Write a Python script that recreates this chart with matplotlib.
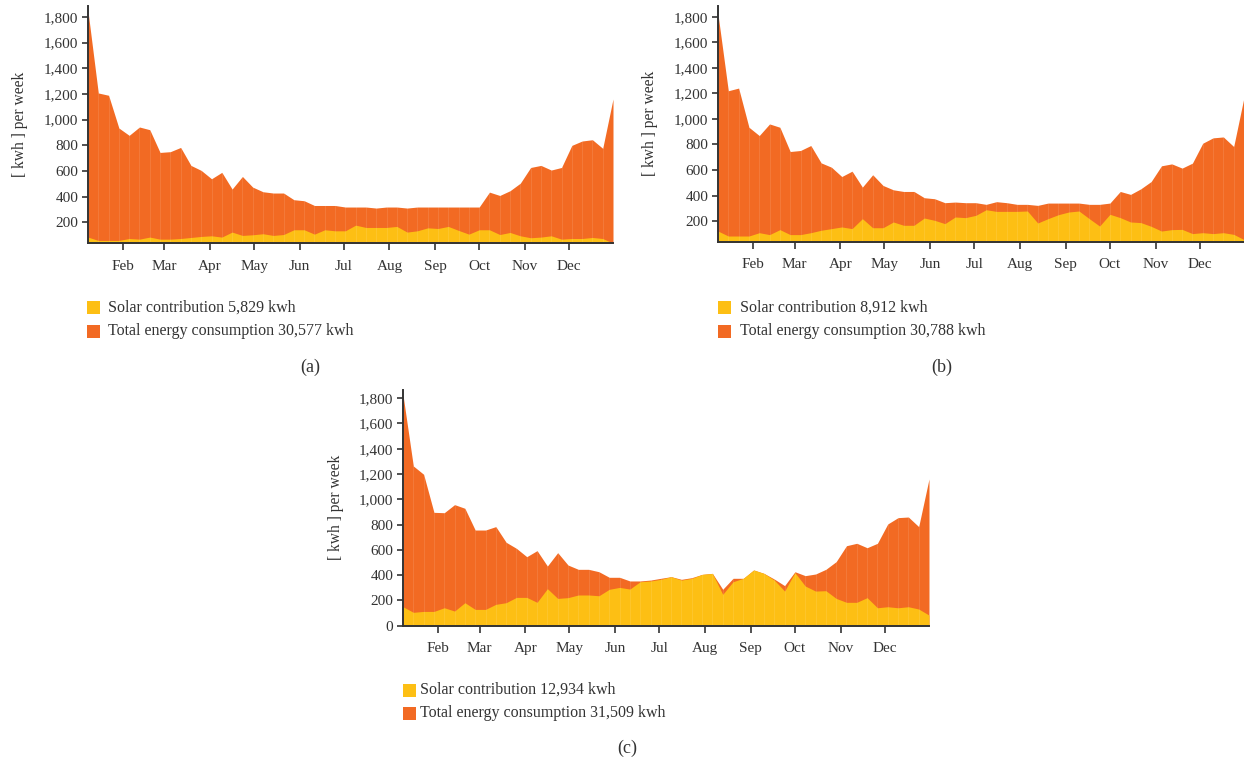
import matplotlib
matplotlib.use("Agg")
import matplotlib.pyplot as plt
from matplotlib.ticker import FuncFormatter
from matplotlib.patches import Rectangle

plt.rcParams['font.family'] = ['Liberation Serif', 'DejaVu Serif']

# Week-ending day of year for the 52 weekly samples
week_days = [7 * k for k in range(1, 53)]
month_ticks = [31, 59, 90, 120, 151, 181, 212, 243, 273, 304, 334]
month_labels = ['Feb', 'Mar', 'Apr', 'May', 'Jun', 'Jul', 'Aug', 'Sep', 'Oct', 'Nov', 'Dec']

# (a) weekly kWh
total_a = [1844, 1208, 1190, 935, 878, 943, 922, 745, 751, 784,
           644, 605, 540, 590, 460, 558, 475, 439, 429, 429,
           377, 369, 332, 332, 332, 320, 320, 320, 312, 320,
           320, 312, 320, 320, 320, 320, 320, 320, 320, 436,
           410, 447, 506, 628, 644, 608, 628, 800, 834, 844,
           777, 1161]
solar_a = [86, 60, 60, 60, 75, 70, 86, 70, 70, 75,
           83, 91, 96, 86, 125, 99, 104, 112, 99, 106,
           143, 143, 109, 143, 135, 135, 179, 161, 161, 161,
           169, 125, 135, 158, 153, 169, 138, 109, 143, 143,
           106, 122, 96, 81, 86, 96, 70, 75, 75, 83,
           75, 39]

# (b) weekly kWh
total_b = [1820, 1221, 1242, 935, 870, 961, 935, 745, 753, 792,
           656, 622, 549, 591, 466, 563, 479, 445, 432, 432,
           383, 375, 344, 349, 344, 344, 331, 352, 344, 331,
           331, 323, 341, 341, 341, 341, 331, 331, 341, 432,
           409, 453, 510, 633, 648, 615, 654, 810, 852, 859,
           784, 1169]
solar_b = [122, 83, 83, 83, 109, 94, 133, 94, 94, 109,
           128, 141, 154, 141, 219, 148, 148, 193, 167, 167,
           224, 206, 180, 232, 227, 245, 289, 276, 276, 276,
           279, 185, 219, 250, 271, 279, 219, 161, 253, 227,
           193, 188, 159, 122, 133, 135, 102, 109, 102, 109,
           96, 55]

# (c) weekly kWh
total_c = [1826, 1264, 1198, 897, 894, 958, 929, 757, 757, 784,
           660, 612, 546, 594, 472, 578, 480, 446, 446, 427,
           383, 383, 354, 354, 361, 375, 388, 367, 380, 406,
           414, 288, 375, 375, 441, 414, 369, 317, 427, 396,
           409, 446, 507, 633, 652, 617, 652, 805, 855, 860,
           784, 1161]
solar_c = [150, 106, 113, 113, 142, 116, 182, 129, 129, 169,
           182, 224, 224, 185, 293, 216, 222, 243, 243, 237,
           288, 303, 290, 348, 354, 367, 388, 361, 375, 406,
           414, 248, 348, 375, 441, 414, 361, 274, 420, 314,
           274, 277, 216, 185, 185, 222, 142, 150, 142, 150,
           132, 84]

legend_a = ['Solar contribution 5,829 kwh', 'Total energy consumption 30,577 kwh']
legend_b = ['Solar contribution 8,912 kwh', 'Total energy consumption 30,788 kwh']
legend_c = ['Solar contribution 12,934 kwh', 'Total energy consumption 31,509 kwh']

ORANGE = '#F26A23'
YELLOW = '#FDBF14'
INK = '#333333'
W, H = 1244, 763

fig = plt.figure(figsize=(W / 100, H / 100), dpi=100)


def px_axes(left, top, right, bottom):
    return fig.add_axes([left / W, 1 - bottom / H, (right - left) / W, (bottom - top) / H])


def draw_panel(ax, total, solar, ymin, ymax, yticks, label_x):
    ax.fill_between(week_days, 0, total, color=ORANGE, lw=0)
    ax.fill_between(week_days, 0, solar, color=YELLOW, lw=0)
    # faint seams at each weekly sample
    for d, t in zip(week_days[1:-1], total[1:-1]):
        ax.plot([d, d], [0, t], color='white', alpha=0.10, lw=0.8)
    ax.set_xlim(week_days[0], week_days[-1])
    ax.set_ylim(ymin, ymax)
    ax.set_xticks(month_ticks)
    ax.set_xticklabels(month_labels)
    ax.set_yticks(yticks)
    ax.yaxis.set_major_formatter(FuncFormatter(lambda v, p: f'{int(v):,}'))
    for side in ('top', 'right'):
        ax.spines[side].set_visible(False)
    for side in ('left', 'bottom'):
        ax.spines[side].set_color(INK)
        ax.spines[side].set_linewidth(1.4)
    ax.tick_params(axis='y', length=4, width=1.2, color=INK, labelcolor=INK,
                   labelsize=11, pad=3)
    ax.tick_params(axis='x', length=5, width=1.2, color=INK, labelcolor=INK,
                   labelsize=11, pad=7)
    ax.set_ylabel('[ kwh ] per week', fontsize=11.2, color=INK)
    ax.yaxis.set_label_coords(label_x, 0.5)


def draw_legend(x_sq, x_txt, y1, y2, labels):
    for y, col, lab in ((y1, YELLOW, labels[0]), (y2, ORANGE, labels[1])):
        fig.patches.append(Rectangle((x_sq / W, 1 - (y + 6.5) / H), 13 / W, 13 / H,
                                     transform=fig.transFigure, color=col, lw=0))
        fig.text(x_txt / W, 1 - y / H, lab, fontsize=11.5, color=INK,
                 ha='left', va='center')


ax_a = px_axes(88, 6, 613, 243)
draw_panel(ax_a, total_a, solar_a, 40, 1885, list(range(200, 1801, 200)), -0.114)
ax_b = px_axes(718, 6, 1244, 241.5)
draw_panel(ax_b, total_b, solar_b, 40, 1885, list(range(200, 1801, 200)), -0.114)
ax_c = px_axes(403, 390, 929, 625.7)
draw_panel(ax_c, total_c, solar_c, 0, 1865, list(range(0, 1801, 200)), -0.112)

draw_legend(87, 108, 308, 331, legend_a)
draw_legend(718, 740, 307.5, 331, legend_b)
draw_legend(403, 420, 690, 713, legend_c)

for x, y, s in ((310, 367, '(a)'), (942, 367, '(b)'), (627, 748, '(c)')):
    fig.text(x / W, 1 - y / H, s, fontsize=13, color=INK, ha='center', va='center')

fig.savefig('out.png', dpi=100)
